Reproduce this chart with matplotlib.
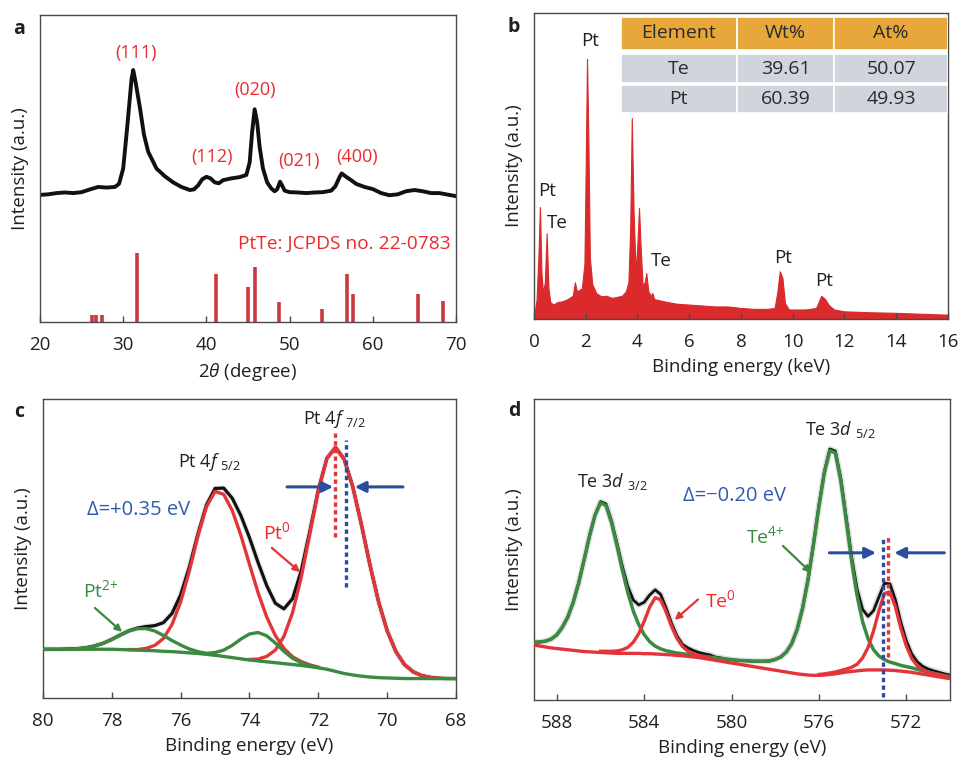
import matplotlib.pyplot as plt
import numpy as np
from matplotlib.patches import Rectangle

plt.rcParams["font.family"] = ["Open Sans", "DejaVu Sans"]
plt.rcParams["mathtext.fontset"] = "custom"
plt.rcParams["mathtext.rm"] = "Open Sans"
plt.rcParams["mathtext.it"] = "Open Sans:italic"
plt.rcParams["mathtext.bf"] = "Open Sans:bold"
plt.rcParams["font.size"] = 13

PALETTE = {
    "ink": "#231f20",
    "frame": "#4a4a4a",
    "red": "#e3343a",
    "label_red": "#ea2a2d",
    "green": "#3b8a3f",
    "blue": "#2b4d9b",
    "blue_text": "#2f5bb0",
    "stick": "#c9393f",
    "eds": "#da2a2c",
    "header": "#e8a73a",
    "row": "#cfd4dd",
    "raw": "#c4c9c4",
}

# ---- (a) XRD pattern + PtTe reference sticks
xrd_two_theta = [20, 21, 22, 23, 24, 25, 26, 27, 28, 29,
                 29.5, 30, 30.5, 31, 31.2, 31.5, 32, 32.5, 33,
                 34, 35, 36, 37, 38, 38.5, 39, 39.5, 40, 40.5,
                 41, 41.5, 42, 43, 44, 44.8, 45.2, 45.5, 45.8, 46.1,
                 46.4, 46.8, 47.3, 47.8, 48.2, 48.5, 48.85, 49.1, 49.4, 50,
                 51, 52, 53, 54, 55, 55.5, 56, 56.26, 56.8, 57.5,
                 58, 59, 60, 61, 62, 63, 64, 65, 66, 67,
                 68, 69, 70]
xrd_intensity = [41.4, 41.6, 42.0, 42.2, 42.0, 42.3, 43.2, 44.0, 43.8, 44.0,
                 45.0, 50.0, 64.0, 79.0, 82.1, 78.0, 70.0, 61.0, 55.5,
                 50.0, 47.5, 45.5, 44.0, 43.0, 43.2, 44.5, 46.5, 47.3, 46.8,
                 45.5, 45.2, 46.2, 46.8, 47.2, 47.9, 52.0, 62.0, 69.3, 65.0,
                 57.0, 50.0, 45.5, 43.5, 42.6, 43.2, 45.7, 44.5, 42.8, 42.3,
                 42.2, 42.0, 42.2, 42.3, 42.8, 44.2, 47.2, 48.4, 47.3, 46.0,
                 45.0, 44.0, 43.3, 42.0, 41.3, 41.6, 42.6, 43.0, 42.6, 42.0,
                 42.0, 41.5, 41.0]
ref_two_theta = [26.3, 26.7, 27.4, 31.7, 41.1, 45.0, 45.9, 48.7, 53.9, 56.9, 57.6, 65.4, 68.4]
ref_intensity = [2.4, 2.4, 2.4, 22.5, 15.7, 11.4, 17.8, 6.6, 4.4, 15.7, 9.1, 9.0, 6.7]
xrd_planes = ["(111)", "(112)", "(020)", "(021)", "(400)"]

# ---- (b) EDS spectrum + composition table
eds_energy = [0.0, 0.1, 0.17, 0.23, 0.29, 0.35, 0.42, 0.49, 0.56, 0.63,
              0.75, 0.9, 1.1, 1.3, 1.5, 1.58, 1.66, 1.85, 1.95, 2.0,
              2.05, 2.1, 2.16, 2.25, 2.4, 2.6, 2.8, 3.0, 3.2, 3.4,
              3.55, 3.65, 3.72, 3.78, 3.85, 3.93, 4.0, 4.06, 4.13, 4.2,
              4.28, 4.34, 4.42, 4.52, 4.57, 4.65, 5.0, 5.5, 6.0, 6.5,
              7.0, 7.5, 8.0, 8.5, 9.0, 9.3, 9.4, 9.5, 9.6, 9.7,
              9.85, 10.5, 10.9, 11.0, 11.1, 11.25, 11.4, 11.6, 12.0, 13.0,
              14.0, 15.0, 16.0]
eds_counts = [0.5, 6.3, 20.0, 36.6, 15.0, 8.5, 12.0, 28.0, 10.0, 5.5,
              4.7, 5.5, 5.8, 6.5, 7.6, 12.0, 9.0, 10.0, 18.0, 50.0,
              85.0, 60.0, 20.0, 11.5, 8.5, 7.4, 7.6, 6.9, 7.2, 7.6,
              9.0, 12.0, 30.0, 65.7, 35.0, 15.0, 25.0, 36.3, 22.0, 11.0,
              12.0, 15.0, 9.0, 7.5, 8.5, 6.5, 5.8, 5.0, 4.7, 4.4,
              4.1, 4.1, 3.6, 3.3, 3.3, 3.6, 8.5, 15.6, 13.5, 5.2,
              3.1, 3.1, 3.6, 5.5, 7.6, 6.5, 4.5, 3.1, 2.5, 2.2,
              2.0, 1.7, 1.4]
table_header = ["Element", "Wt%", "At%"]
table_elements = ["Te", "Pt"]
table_wt = ["39.61", "60.39"]
table_at = ["50.07", "49.93"]

# ---- (c) Pt 4f XPS, 80 -> 68 eV every 0.25 eV
pt_energy = np.linspace(80, 68, 49)
pt_background = [16.3, 16.3, 16.3, 16.3, 16.3, 16.3, 16.3, 16.3,
                 16.3, 16.2, 16.1, 16.0, 15.9, 15.8, 15.6, 15.5,
                 15.3, 15.1, 14.9, 14.6, 14.3, 13.9, 13.5, 13.1,
                 12.7, 12.4, 12.1, 11.8, 11.5, 11.2, 10.9, 10.5,
                 10.1, 9.6, 8.9, 8.2, 7.7, 7.3, 7.0, 6.8,
                 6.7, 6.6, 6.5, 6.5, 6.5, 6.5, 6.5, 6.5,
                 6.5]
pt0_52 = (77.5, [0.1, 0.2, 0.7, 1.8, 4.3, 9.1, 16.8, 27.3, 39.2, 49.4, 54.8, 54.2,
                 49.2, 41.3, 32.0, 22.8, 15.0, 9.1, 5.1, 2.6, 1.3, 0.6, 0.2])
pt0_72 = (74.0, [0.2, 0.6, 1.8, 4.2, 9.1, 17.3, 29.3, 44.2, 59.2, 70.6, 74.9, 71.7,
                 63.0, 50.8, 37.5, 25.4, 15.8, 9.0, 4.7, 2.3, 1.0, 0.4, 0.1])
pt2_52 = (79.25, [0.1, 0.2, 0.5, 1.1, 2.0, 3.3, 4.9, 6.3, 7.2, 7.3, 6.6, 5.3,
                  3.7, 2.4, 1.3, 0.6, 0.3, 0.1])
pt2_72 = (75.5, [0.1, 0.3, 0.9, 2.1, 4.1, 6.6, 8.7, 9.5, 8.7, 6.6, 4.1, 2.1, 0.9, 0.3, 0.1])

# ---- (d) Te 3d XPS, 589 -> 570 eV every 0.25 eV
te_energy = np.linspace(589, 570, 77)
te_background = [18.2, 17.9, 17.6, 17.3, 17.1, 16.9, 16.7, 16.5,
                 16.3, 16.1, 16.0, 15.9, 15.8, 15.7, 15.6, 15.5,
                 15.5, 15.5, 15.5, 15.5, 15.4, 15.4, 15.3, 15.2,
                 15.1, 15.0, 14.8, 14.7, 14.5, 14.3, 14.1, 13.8,
                 13.5, 13.2, 12.9, 12.6, 12.3, 12.0, 11.7, 11.4,
                 11.1, 10.8, 10.5, 10.2, 9.9, 9.6, 9.3, 9.0,
                 8.7, 8.5, 8.3, 8.2, 8.2, 8.3, 8.5, 8.7,
                 9.0, 9.3, 9.5, 9.7, 9.9, 10.0, 10.0, 10.0,
                 10.0, 9.9, 9.8, 9.6, 9.4, 9.2, 8.9, 8.6,
                 8.3, 8.0, 7.7, 7.4, 7.1]
te4_32 = (589.0, [1.0, 1.4, 2.0, 3.0, 4.6, 7.3, 10.9, 16.0, 22.7, 30.6, 38.7, 45.6,
                  49.7, 48.9, 43.3, 35.8, 27.6, 20.1, 14.0, 9.5, 6.3, 4.0, 2.6, 1.8,
                  1.3, 1.0, 0.8, 0.7, 0.6, 0.5, 0.4, 0.35, 0.3, 0.25, 0.2])
te4_52 = (582.0, [0.5, 0.55, 0.6, 0.7, 0.8, 0.85, 0.9, 1.0, 1.1, 1.2, 1.4, 1.6,
                  1.8, 2.1, 2.4, 2.8, 3.6, 4.7, 6.6, 9.7, 14.7, 22.0, 31.7, 43.6,
                  56.2, 67.3, 74.4, 73.4, 63.8, 50.3, 36.5, 24.8, 16.1, 10.3, 6.7, 4.6,
                  3.4, 2.7, 2.3, 1.9, 1.7, 1.5, 1.3, 1.1, 1.0, 0.9, 0.8, 0.7, 0.7])
te0_32 = (586.0, [0.4, 0.5, 0.6, 0.8, 1.2, 2.0, 3.7, 6.6, 10.8, 15.5, 18.7, 18.1,
                  14.2, 9.5, 5.7, 3.1, 1.7, 1.1, 0.7, 0.5, 0.4])
te0_52 = (576.0, [0.3, 0.4, 0.5, 0.6, 0.8, 1.0, 1.4, 2.2, 4.1, 7.5, 13.0, 19.7,
                  25.4, 26.0, 21.2, 14.3, 8.6, 4.6, 2.5, 1.5, 1.0, 0.8, 0.7, 0.6, 0.5])


def _on_grid(grid, component):
    start, values = component
    out = np.zeros(len(grid))
    i = int(np.argmin(np.abs(grid - start)))
    out[i:i + len(values)] = values
    return out


def _above(base, comp):
    return np.where(comp > 0, base + comp, np.nan)


def _style_axes(ax, xlim, xticks, xlabel):
    ax.set_xlim(*xlim)
    ax.set_ylim(0, 100)
    ax.set_xticks(xticks)
    ax.set_yticks([])
    for spine in ax.spines.values():
        spine.set_color(PALETTE["frame"])
        spine.set_linewidth(1.0)
    ax.tick_params(axis="x", direction="in", length=4, width=1,
                   color=PALETTE["frame"], labelcolor=PALETTE["ink"], pad=10, labelsize=13.5)
    ax.set_ylabel("Intensity (a.u.)", color=PALETTE["ink"], labelpad=8, fontsize=13.5)
    ax.set_xlabel(xlabel, color=PALETTE["ink"], labelpad=5, fontsize=13.5)


def _arrow(ax, start, end, color, lw, scale):
    ax.annotate("", xy=end, xytext=start,
                arrowprops=dict(arrowstyle="-|>", color=color, lw=lw,
                                mutation_scale=scale, shrinkA=0, shrinkB=0))


def plot_xrd(ax):
    ax.plot(xrd_two_theta, xrd_intensity, color="#111111", lw=2.8, solid_joinstyle="round")
    ax.vlines(ref_two_theta, 0, ref_intensity, color=PALETTE["stick"], lw=2.6)
    spots = [(31.5, 87.5), (40.7, 53.9), (45.9, 75.6), (51.1, 52.3), (58.1, 53.7)]
    for plane, (x, y) in zip(xrd_planes, spots):
        ax.text(x, y, plane, color=PALETTE["label_red"], ha="center", va="center")
    ax.text(69.3, 25.4, "PtTe: JCPDS no. 22-0783", color=PALETTE["label_red"],
            ha="right", va="center", fontsize=13.8)
    _style_axes(ax, (20, 70), range(20, 71, 10), r"2$\mathit{\theta}$ (degree)")


def plot_eds(ax):
    ax.fill_between(eds_energy, 0, eds_counts, color=PALETTE["eds"], lw=0.8)
    for text, x, y in [("Pt", 2.18, 90.7), ("Pt", 0.5, 41.7), ("Te", 0.92, 31.4),
                       ("Te", 4.93, 19.1), ("Pt", 9.62, 19.9), ("Pt", 11.23, 12.3)]:
        ax.text(x, y, text, ha="center", va="center", color=PALETTE["ink"], fontsize=13.5)

    # composition table, drawn in axes fractions
    cols = [0.2094, 0.4896, 0.7254, 1.0]
    rows = [(0.8791, 0.9869), (0.7712, 0.866), (0.6732, 0.7647)]
    cells = [table_header] + [[e, w, a] for e, w, a in zip(table_elements, table_wt, table_at)]
    for r, (y0, y1) in enumerate(rows):
        face = PALETTE["header"] if r == 0 else PALETTE["row"]
        for c in range(3):
            ax.add_patch(Rectangle((cols[c], y0), cols[c + 1] - cols[c], y1 - y0,
                                   transform=ax.transAxes, facecolor=face,
                                   edgecolor="white", lw=1.2, zorder=4))
            ax.text((cols[c] + cols[c + 1]) / 2, (y0 + y1) / 2, cells[r][c],
                    transform=ax.transAxes, ha="center", va="center",
                    color="#2b2b2b", zorder=5, fontsize=14)
    _style_axes(ax, (0, 16), range(0, 17, 2), "Binding energy (keV)")


def plot_pt4f(ax):
    bg = np.asarray(pt_background)
    comps = [_on_grid(pt_energy, c) for c in (pt0_52, pt0_72, pt2_52, pt2_72)]
    envelope = bg + sum(comps)
    ax.plot(pt_energy, envelope, color=PALETTE["raw"], lw=4, alpha=0.4, zorder=1)
    ax.plot(pt_energy, envelope, color="#111111", lw=2.3, zorder=2)
    for comp in comps[:2]:
        ax.plot(pt_energy, _above(bg, comp), color=PALETTE["red"], lw=2.4, zorder=3)
    for comp in comps[2:]:
        ax.plot(pt_energy, _above(bg, comp), color=PALETTE["green"], lw=2.4, zorder=4)
    ax.plot(pt_energy, bg, color=PALETTE["green"], lw=2.4, zorder=4)

    ax.vlines(71.52, 53.8, 89.0, color=PALETTE["red"], lw=2.4,
              linestyles=(0, (1.3, 1.0)), zorder=5)
    ax.vlines(71.2, 37.1, 86.3, color=PALETTE["blue"], lw=2.4,
              linestyles=(0, (1.3, 1.0)), zorder=5)
    _arrow(ax, (72.91, 70.6), (71.57, 70.6), PALETTE["blue"], 2.2, 16)
    _arrow(ax, (69.54, 70.6), (70.94, 70.6), PALETTE["blue"], 2.2, 16)
    _arrow(ax, (73.35, 50.2), (72.53, 42.1), PALETTE["red"], 1.6, 10)
    _arrow(ax, (78.49, 30.1), (77.70, 22.1), PALETTE["green"], 1.6, 10)

    ax.text(72.45, 93.3, r"Pt 4$\mathit{f}$ $_{7/2}$", va="center", color=PALETTE["ink"])
    ax.text(76.08, 78.9, r"Pt 4$\mathit{f}$ $_{5/2}$", va="center", color=PALETTE["ink"])
    ax.text(78.72, 62.9, "Δ=+0.35 eV", va="center", color=PALETTE["blue_text"], fontsize=14.5)
    ax.text(73.61, 55.5, r"Pt$^{0}$", va="center", color=PALETTE["label_red"], fontsize=14)
    ax.text(78.84, 36.1, r"Pt$^{2{+}}$", va="center", color=PALETTE["green"], fontsize=14)
    _style_axes(ax, (80, 68), range(80, 67, -2), "Binding energy (eV)")


def plot_te3d(ax):
    bg = np.asarray(te_background)
    comps = [_on_grid(te_energy, c) for c in (te4_32, te4_52, te0_32, te0_52)]
    envelope = bg + sum(comps)
    ax.plot(te_energy, envelope, color=PALETTE["raw"], lw=4.5, alpha=0.55, zorder=1)
    ax.plot(te_energy, envelope, color="#111111", lw=2.0, zorder=2)
    for comp in comps[:2]:
        ax.plot(te_energy, _above(bg, comp), color=PALETTE["green"], lw=2.5, zorder=3)
    for comp in comps[2:]:
        ax.plot(te_energy, _above(bg, comp), color=PALETTE["red"], lw=2.4, zorder=4)
    ax.plot(te_energy, bg, color=PALETTE["red"], lw=2.4, zorder=4)

    ax.vlines(573.05, 1.1, 54.3, color=PALETTE["blue"], lw=2.4,
              linestyles=(0, (1.3, 1.0)), zorder=5)
    ax.vlines(572.85, 14.4, 54.3, color=PALETTE["red"], lw=2.4,
              linestyles=(0, (1.3, 1.0)), zorder=5)
    _arrow(ax, (575.52, 48.9), (573.39, 48.9), PALETTE["blue"], 2.2, 16)
    _arrow(ax, (570.26, 48.9), (572.55, 48.9), PALETTE["blue"], 2.2, 16)
    _arrow(ax, (577.65, 51.2), (576.36, 42.3), PALETTE["green"], 1.6, 10)
    _arrow(ax, (581.54, 33.4), (582.61, 26.6), PALETTE["red"], 1.6, 10)

    ax.text(576.66, 89.9, r"Te 3$\mathit{d}$ $_{5/2}$", va="center", color=PALETTE["ink"])
    ax.text(587.1, 72.5, r"Te 3$\mathit{d}$ $_{3/2}$", va="center", color=PALETTE["ink"])
    ax.text(582.24, 67.8, "Δ=\u22120.20 eV", va="center", color=PALETTE["blue_text"], fontsize=14.5)
    ax.text(579.33, 54.3, r"Te$^{4{+}}$", va="center", color=PALETTE["green"], fontsize=14)
    ax.text(581.23, 33.2, r"Te$^{0}$", va="center", color=PALETTE["label_red"], fontsize=14)
    _style_axes(ax, (589.05, 570.0), [588, 584, 580, 576, 572], "Binding energy (eV)")


fig = plt.figure(figsize=(9.59, 7.6), dpi=100)
ax_a = fig.add_axes([0.0417, 0.5763, 0.4338, 0.4039])
ax_b = fig.add_axes([0.5568, 0.5803, 0.4317, 0.4026])
ax_c = fig.add_axes([0.0448, 0.0816, 0.4307, 0.3934])
ax_d = fig.add_axes([0.5568, 0.0789, 0.4338, 0.3961])

plot_xrd(ax_a)
plot_eds(ax_b)
plot_pt4f(ax_c)
plot_te3d(ax_d)

for letter, px, py in [("a", 19, 29), ("b", 514, 27), ("c", 19, 412), ("d", 514, 411)]:
    fig.text(px / 959, 1 - py / 760, letter, fontweight="bold", ha="center", va="center",
             color=PALETTE["ink"], fontsize=14)

fig.savefig("out.png", dpi=100, facecolor="white")
